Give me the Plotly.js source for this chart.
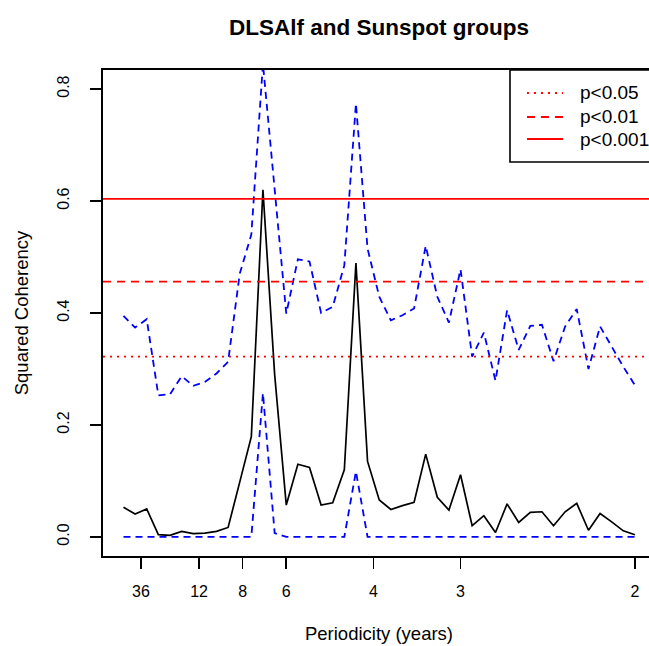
<!DOCTYPE html>
<html>
<head>
<meta charset="utf-8">
<script src="https://cdn.plot.ly/plotly-3.0.1.min.js"></script>
<style>
  html, body { margin: 0; padding: 0; background: #fff; overflow: hidden; }
  #chart { width: 662px; height: 646px; }
</style>
</head>
<body>
<div id="chart"></div>
<script>
// Frequencies (cycles per year) of the estimated coherency
const freq = [0.0111, 0.0222, 0.0333, 0.0444, 0.0556, 0.0667, 0.0778, 0.0889, 0.1, 0.1111,
              0.1222, 0.1333, 0.1444, 0.1556, 0.1667, 0.1778, 0.1889, 0.2, 0.2111, 0.2222,
              0.2333, 0.2444, 0.2556, 0.2667, 0.2778, 0.2889, 0.3, 0.3111, 0.3222, 0.3333,
              0.3444, 0.3556, 0.3667, 0.3778, 0.3889, 0.4, 0.4111, 0.4222, 0.4333, 0.4444,
              0.4556, 0.4667, 0.4778, 0.4889, 0.5];

// Squared coherency estimate
const coh = [0.053, 0.041, 0.050, 0.004, 0.003, 0.010, 0.006, 0.007, 0.010, 0.017,
             0.098, 0.179, 0.620, 0.290, 0.057, 0.130, 0.124, 0.057, 0.061, 0.120,
             0.489, 0.135, 0.066, 0.049, 0.056, 0.062, 0.148, 0.071, 0.048, 0.111,
             0.020, 0.038, 0.008, 0.059, 0.026, 0.044, 0.045, 0.020, 0.045, 0.060,
             0.012, 0.042, 0.027, 0.011, 0.004];

// Upper confidence band
const upper = [0.395, 0.374, 0.389, 0.253, 0.255, 0.287, 0.270, 0.277, 0.292, 0.313,
               0.470, 0.540, 0.845, 0.615, 0.399, 0.496, 0.492, 0.400, 0.411, 0.485,
               0.774, 0.515, 0.429, 0.387, 0.396, 0.408, 0.520, 0.429, 0.383, 0.478,
               0.322, 0.365, 0.279, 0.405, 0.334, 0.377, 0.379, 0.314, 0.376, 0.407,
               0.300, 0.376, 0.340, 0.304, 0.271];

// Lower confidence band
const lower = [0, 0, 0, 0, 0, 0, 0, 0, 0, 0,
               0, 0, 0.257, 0.007, 0, 0, 0, 0, 0, 0,
               0.117, 0, 0, 0, 0, 0, 0, 0, 0, 0,
               0, 0, 0, 0, 0, 0, 0, 0, 0, 0,
               0, 0, 0, 0, 0];

// Significance thresholds
const threshNames = ['p<0.05', 'p<0.01', 'p<0.001'];
const threshValues = [0.322, 0.456, 0.604];
const threshDash = ['2px,5px', '8px,6px', 'solid'];

// Tick labels (periods in years)
const tickPeriods = [36, 12, 8, 6, 4, 3, 2];
const yTicks = [0, 0.2, 0.4, 0.6, 0.8];

const FONT = 'Liberation Sans, Arial, sans-serif';
const RED = '#ff0000';

const traces = [
  { x: freq, y: coh, type: 'scatter', mode: 'lines', showlegend: false,
    line: { color: '#000000', width: 1.7 } },
  { x: freq, y: upper, type: 'scatter', mode: 'lines', showlegend: false,
    line: { color: '#0000ff', width: 1.8, dash: '7px,5px' } },
  { x: freq, y: lower, type: 'scatter', mode: 'lines', showlegend: false,
    line: { color: '#0000ff', width: 1.8, dash: '7px,5px' } }
];

// threshold lines across the plot
const shapes = threshValues.map((v, i) => ({
  type: 'line', xref: 'paper', x0: 0, x1: 1, yref: 'y', y0: v, y1: v,
  line: { color: RED, width: 1.8, dash: threshDash[i] }, layer: 'above'
}));

// legend box (top-right, R style) built from shapes + annotations
const legBox = { x0: 0.7373, x1: 1.0, y0: 0.8107, y1: 1.0 };
const legRows = [0.9527, 0.9033, 0.858];
const legLine = { x0: 0.768, x1: 0.8333 };
const legTextX = 0.8605;

shapes.push({ type: 'rect', xref: 'paper', yref: 'paper',
  x0: legBox.x0, x1: legBox.x1, y0: legBox.y0, y1: legBox.y1,
  fillcolor: '#ffffff', line: { color: '#000', width: 1.6 }, layer: 'above' });
threshNames.forEach((n, i) => {
  shapes.push({ type: 'line', xref: 'paper', yref: 'paper',
    x0: legLine.x0, x1: legLine.x1, y0: legRows[i], y1: legRows[i],
    line: { color: RED, width: 1.8, dash: threshDash[i] }, layer: 'above' });
});
const annotations = threshNames.map((n, i) => ({
  text: n, xref: 'paper', yref: 'paper', x: legTextX, y: legRows[i],
  xanchor: 'left', yanchor: 'middle', showarrow: false,
  font: { family: FONT, size: 19, color: '#000' }
}));

const layout = {
  width: 662, height: 646,
  margin: { l: 103, r: 7, t: 70, b: 90 },
  paper_bgcolor: '#ffffff', plot_bgcolor: '#ffffff',
  font: { family: FONT, size: 16, color: '#000000' },
  title: { text: '<b>DLSAlf and Sunspot groups</b>', font: { family: FONT, size: 22.5, color: '#000' },
           x: 0.5, xref: 'paper', xanchor: 'center', y: 1 - 27 / 646, yref: 'container', yanchor: 'middle' },
  xaxis: {
    range: [-0.0085, 0.5192], autorange: false,
    tickvals: tickPeriods.map(p => 1 / p), ticktext: tickPeriods.map(String),
    ticks: 'outside', ticklen: 11, tickwidth: 1.5, tickcolor: '#000',
    showgrid: false, zeroline: false,
    showline: true, linecolor: '#000', linewidth: 1.6, mirror: true,
    ticklabelstandoff: 9,
    tickfont: { family: FONT, size: 16 },
    title: { text: 'Periodicity (years)', font: { family: FONT, size: 18.5 }, standoff: 28 }
  },
  yaxis: {
    range: [-0.034, 0.834], autorange: false,
    tickvals: yTicks, tickformat: '.1f', tickangle: -90,
    ticks: 'outside', ticklen: 11, tickwidth: 1.5, tickcolor: '#000',
    showgrid: false, zeroline: false,
    showline: true, linecolor: '#000', linewidth: 1.6, mirror: true,
    ticklabelstandoff: 15,
    tickfont: { family: FONT, size: 16 },
    title: { text: 'Squared Coherency', font: { family: FONT, size: 18.5 }, standoff: 21 }
  },
  shapes: shapes,
  annotations: annotations,
  showlegend: false
};

Plotly.newPlot('chart', traces, layout, { displayModeBar: false, staticPlot: true });
</script>
</body>
</html>
